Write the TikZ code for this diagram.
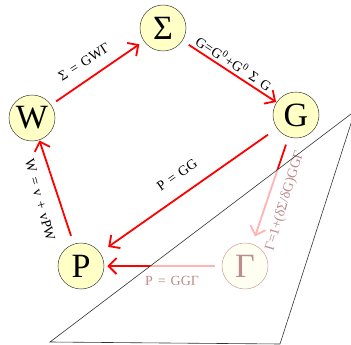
\documentclass[tikz,border=0pt]{standalone}
\usepackage{fontspec}
\setmainfont{Liberation Serif}
\usetikzlibrary{arrows.meta}
\definecolor{nodefill}{RGB}{255,255,198}
\definecolor{fadetext}{RGB}{190,140,140}
\definecolor{fadeline}{RGB}{205,160,160}
\definecolor{fadefill}{RGB}{255,255,242}
\pgfdeclarelayer{front}
\pgfsetlayers{main,front}
\begin{document}
\begin{tikzpicture}[x=1pt,y=-1pt,
  hnode/.style={circle,draw=black!75,line width=0.5pt,fill=nodefill,minimum size=46pt,inner sep=0pt,font=\fontsize{34}{34}\selectfont},
  fadenode/.style={hnode,draw=fadeline,fill=fadefill,text=fadetext},
  redarrow/.style={draw=red,line width=1.8pt,-{Straight Barb[length=8pt,width=16pt]}},
  lbl/.style={font=\fontsize{14}{14}\selectfont,inner sep=0pt},
  tri/.style={draw=black!80,line width=0.6pt}]
\useasboundingbox (0,0) rectangle (351,345);
\clip (0,0) rectangle (351,345);
% nodes
\node[hnode] (S) at (163,28) {Σ};
\node[hnode] (W) at (32,118) {W};
\node[hnode] (G) at (296,115) {G};
\node[hnode] (P) at (81,266) {P};
\begin{pgfonlayer}{front}
\node[fadenode] (Gam) at (245,266) {Γ};
\end{pgfonlayer}
% connectors
\draw[redarrow, shorten <=6pt, shorten >=5.5pt] (W) -- (S);
\draw[redarrow, shorten <=7.5pt, shorten >=0.5pt] (S) -- (G);
\draw[redarrow, shorten <=11pt, shorten >=10pt] (G) -- (P);
\draw[redarrow, shorten <=8.5pt, shorten >=0.5pt] (P) -- (W);
\draw[redarrow, shorten <=8pt, shorten >=8pt] (G) -- (Gam);
\draw[redarrow, shorten <=7pt, shorten >=3pt] (Gam) -- (P);
% labels
\node[lbl, rotate=32] (l1) at (84,62) {Σ\hspace{5pt}=\hspace{5pt}GWΓ};
\node[lbl, rotate=-33] (l2) at (234,63) {G\hspace{0.5pt}=\hspace{0.5pt}G\textsuperscript{0}\hspace{0.5pt}+\hspace{0.5pt}G\textsuperscript{0}\hspace{5pt}Σ\hspace{5pt}G};
\node[lbl, rotate=35] (l3) at (177,175) {P\hspace{5pt}=\hspace{5pt}GG};
\node[lbl, rotate=-75] (l4) at (40,200) {W\hspace{5pt}=\hspace{5pt}v\hspace{5pt}+\hspace{5pt}vPW};
% fading triangle
\coordinate (t1) at (355,111);
\coordinate (t2) at (50,342);
\coordinate (t3) at (280,344);
\fill[white, fill opacity=0.7] (t1) -- (t2) -- (t3) -- cycle;
\begin{pgfonlayer}{front}
\node[lbl, rotate=73, text=fadetext] (l5) at (285,201) {Γ=1+(δΣ/δG)GGΓ};
\node[lbl, text=fadetext] (l6) at (172,281) {P\hspace{5pt}=\hspace{5pt}GGΓ};
\draw[tri] (t1) -- (t2) -- (t3) -- cycle;
\end{pgfonlayer}
\end{tikzpicture}
\end{document}
